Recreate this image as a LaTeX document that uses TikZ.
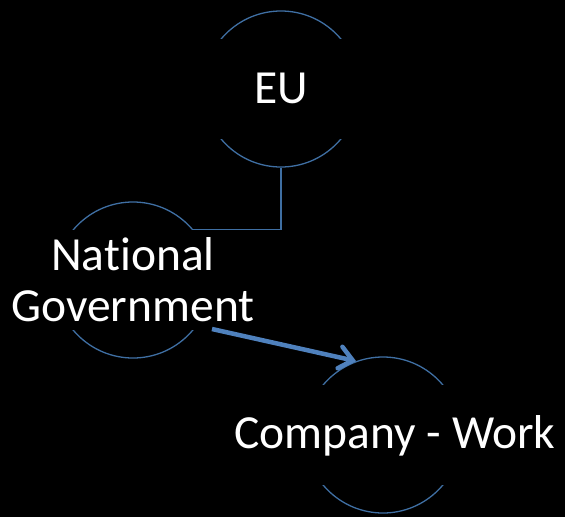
\documentclass[tikz,border=0pt]{standalone}
\usepackage{fontspec}
\setmainfont[Ligatures=NoCommon]{Carlito}
\usetikzlibrary{calc,arrows.meta}
\definecolor{ringblue}{HTML}{3F6FA3}
\definecolor{arrowblue}{HTML}{4F81BD}
\begin{document}
\begin{tikzpicture}[x=1pt,y=-1pt,
	ring/.style={draw=ringblue,line width=1.3pt,circle,minimum size=156pt,inner sep=0pt},
	band/.style={fill=black,minimum width=170pt,minimum height=100pt,inner sep=0pt},
	word/.style={text=white,font=\fontsize{47.5}{51}\selectfont,align=center,inner sep=0pt},
	link/.style={draw=ringblue,line width=1.3pt},
	push/.style={draw=arrowblue,line width=4.5pt,-{Straight Barb[length=13pt,width=22pt,line cap=round]}}]
	\fill[black] (0,0) rectangle (565,517);
	\useasboundingbox (0,0) rectangle (565,517);
	
	% circles, with a black band behind the text
	\node[ring] (eu) at (281,89) {};
	\node[band] (euband) at (eu) {};
	\node[ring] (nat) at (133,280) {};
	\node[band] (natband) at (nat) {};
	\node[ring] (comp) at (383,435) {};
	\node[band,minimum width=330pt] (compband) at (comp) {};
	
	\node[word] (eutext) at (281,88) {EU};
	\node[word] (nattext) at (133,280) {National\\Government};
	\node[word] (comptext) at (395,436) {Company - Work};
	
	\coordinate (natout) at ($(nat.center)+(79,49)$);
	
	\draw[link] (eu.south) |- (nat.40);
	\draw[push] (natout) -- (comp.110);
\end{tikzpicture}
\end{document}
